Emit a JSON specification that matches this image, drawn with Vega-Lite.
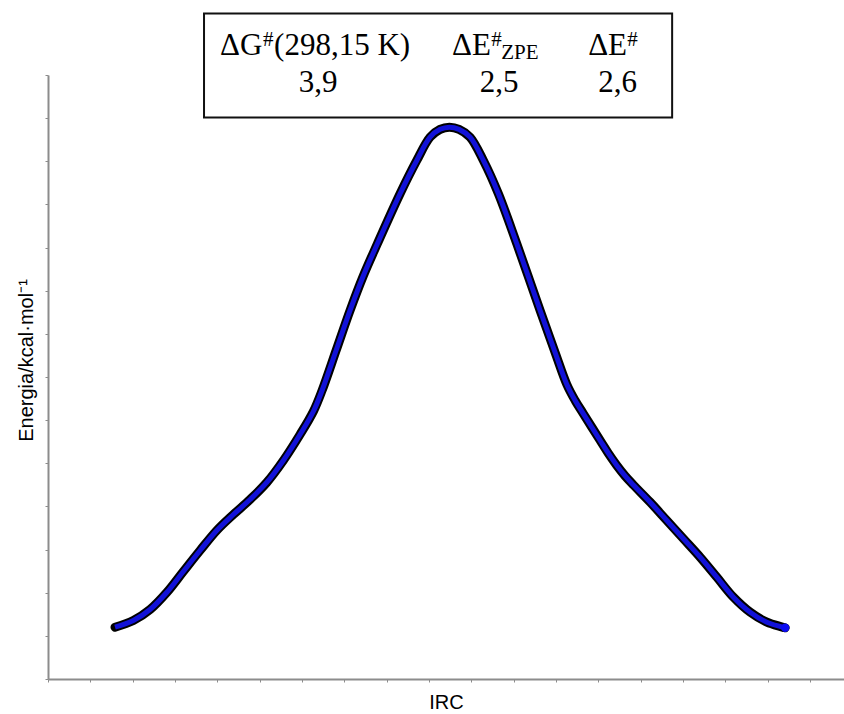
{
  "$schema": "https://vega.github.io/schema/vega-lite/v6.json",
  "width": 796,
  "height": 604,
  "autosize": {"type": "none"},
  "padding": {"left": 48, "top": 75, "right": 0, "bottom": 35},
  "background": "white",
  "config": {"view": {"stroke": null}},
  "datasets": {
    "curve": [
      {"irc": 1.583, "e": 1.201}, {"irc": 2.015, "e": 1.356}, {"irc": 2.41, "e": 1.611},
      {"irc": 2.804, "e": 2.005}, {"irc": 3.196, "e": 2.492}, {"irc": 3.591, "e": 2.978},
      {"irc": 3.985, "e": 3.442}, {"irc": 4.378, "e": 3.813}, {"irc": 4.772, "e": 4.161},
      {"irc": 5.167, "e": 4.555}, {"irc": 5.559, "e": 5.065}, {"irc": 5.953, "e": 5.667},
      {"irc": 6.267, "e": 6.2}, {"irc": 6.473, "e": 6.687}, {"irc": 6.804, "e": 7.614},
      {"irc": 7.134, "e": 8.542}, {"irc": 7.441, "e": 9.33}, {"irc": 7.779, "e": 10.088},
      {"irc": 8.315, "e": 11.247}, {"irc": 8.71, "e": 12.019}, {"irc": 9.024, "e": 12.559},
      {"irc": 9.26, "e": 12.74}, {"irc": 9.48, "e": 12.791}, {"irc": 9.709, "e": 12.74},
      {"irc": 9.969, "e": 12.559}, {"irc": 10.283, "e": 12.019}, {"irc": 10.638, "e": 11.247},
      {"irc": 11.072, "e": 10.088}, {"irc": 11.623, "e": 8.542}, {"irc": 11.977, "e": 7.568},
      {"irc": 12.254, "e": 6.827}, {"irc": 12.45, "e": 6.456}, {"irc": 12.646, "e": 6.147},
      {"irc": 13.041, "e": 5.529}, {"irc": 13.229, "e": 5.239}, {"irc": 13.435, "e": 4.949},
      {"irc": 13.631, "e": 4.706}, {"irc": 13.827, "e": 4.497}, {"irc": 14.222, "e": 4.098},
      {"irc": 14.616, "e": 3.674}, {"irc": 15.008, "e": 3.25}, {"irc": 15.403, "e": 2.823},
      {"irc": 15.797, "e": 2.36}, {"irc": 16.189, "e": 1.896}, {"irc": 16.584, "e": 1.548},
      {"irc": 16.979, "e": 1.317}, {"irc": 17.411, "e": 1.187}
    ],
    "box": [{"x1": 3.685, "x2": 14.741, "y1": 13.016, "y2": 15.426}],
    "labels": [
      {"t": "ΔG", "x": 4.064, "y": 14.453, "kind": "main"},
      {"t": "(298,15 K)", "x": 5.339, "y": 14.453, "kind": "main"},
      {"t": "ΔE", "x": 9.544, "y": 14.453, "kind": "main"},
      {"t": "ΔE", "x": 12.757, "y": 14.453, "kind": "main"},
      {"t": "#", "x": 5.079, "y": 14.662, "kind": "sup"},
      {"t": "#", "x": 10.466, "y": 14.662, "kind": "sup"},
      {"t": "#", "x": 13.678, "y": 14.662, "kind": "sup"},
      {"t": "ZPE", "x": 10.702, "y": 14.36, "kind": "sub"},
      {"t": "3,9", "x": 6.378, "y": 13.597, "kind": "val"},
      {"t": "2,5", "x": 10.654, "y": 13.597, "kind": "val"},
      {"t": "2,6", "x": 13.454, "y": 13.597, "kind": "val"}
    ]
  },
  "layer": [
    {
      "data": {"name": "box"},
      "mark": {"type": "rect", "fill": "white", "stroke": "#111111", "strokeWidth": 2},
      "encoding": {
        "x": {"field": "x1", "type": "quantitative", "scale": {"domain": [0, 18.8], "nice": false, "zero": false},
          "axis": {"values": [0,1,2,3,4,5,6,7,8,9,10,11,12,13,14,15,16,17,18], "labels": false, "grid": false,
            "domainColor": "#8c8c8c", "domainWidth": 2, "tickColor": "#8c8c8c", "tickSize": 3, "tickWidth": 1,
            "title": "IRC", "titleFont": "Liberation Sans", "titleFontSize": 20, "titleFontWeight": "normal",
            "titleColor": "#000000", "titleY": 29, "titleBaseline": "alphabetic"}},
        "x2": {"field": "x2"},
        "y": {"field": "y1", "type": "quantitative", "scale": {"domain": [0, 14], "nice": false, "zero": false},
          "axis": {"values": [0,1,2,3,4,5,6,7,8,9,10,11,12,13,14], "labels": false, "grid": false,
            "domainColor": "#8c8c8c", "domainWidth": 2, "tickColor": "#8c8c8c", "tickSize": 3, "tickWidth": 1,
            "title": "Energia/kcal·mol⁻¹", "titleFont": "Liberation Sans", "titleFontSize": 20, "titleFontWeight": "normal",
            "titleColor": "#000000", "titleX": -16, "titleY": 285, "titleAngle": -90, "titleAlign": "center", "titleBaseline": "alphabetic"}},
        "y2": {"field": "y2"}
      }
    },
    {
      "data": {"name": "labels"},
      "transform": [{"filter": "datum.kind === 'main'"}],
      "mark": {"type": "text", "font": "Liberation Serif", "fontSize": 31, "align": "left", "baseline": "alphabetic", "color": "#000000"},
      "encoding": {
        "x": {"field": "x", "type": "quantitative"},
        "y": {"field": "y", "type": "quantitative"},
        "text": {"field": "t"}
      }
    },
    {
      "data": {"name": "labels"},
      "transform": [{"filter": "datum.kind === 'sup'"}],
      "mark": {"type": "text", "font": "Liberation Serif", "fontSize": 21, "align": "left", "baseline": "alphabetic", "color": "#000000"},
      "encoding": {
        "x": {"field": "x", "type": "quantitative"},
        "y": {"field": "y", "type": "quantitative"},
        "text": {"field": "t"}
      }
    },
    {
      "data": {"name": "labels"},
      "transform": [{"filter": "datum.kind === 'sub'"}],
      "mark": {"type": "text", "font": "Liberation Serif", "fontSize": 21, "align": "left", "baseline": "alphabetic", "color": "#000000"},
      "encoding": {
        "x": {"field": "x", "type": "quantitative"},
        "y": {"field": "y", "type": "quantitative"},
        "text": {"field": "t"}
      }
    },
    {
      "data": {"name": "labels"},
      "transform": [{"filter": "datum.kind === 'val'"}],
      "mark": {"type": "text", "font": "Liberation Serif", "fontSize": 31, "align": "center", "baseline": "alphabetic", "color": "#000000"},
      "encoding": {
        "x": {"field": "x", "type": "quantitative"},
        "y": {"field": "y", "type": "quantitative"},
        "text": {"field": "t"}
      }
    },
    {
      "data": {"name": "curve"},
      "mark": {"type": "line", "color": "#000000", "strokeWidth": 9, "strokeCap": "round", "strokeJoin": "round", "interpolate": "catmull-rom"},
      "encoding": {
        "x": {"field": "irc", "type": "quantitative"},
        "y": {"field": "e", "type": "quantitative"}
      }
    },
    {
      "data": {"name": "curve"},
      "mark": {"type": "line", "color": "#1212d8", "strokeWidth": 5, "strokeCap": "butt", "strokeJoin": "round", "interpolate": "catmull-rom"},
      "encoding": {
        "x": {"field": "irc", "type": "quantitative"},
        "y": {"field": "e", "type": "quantitative"}
      }
    },
    {
      "data": {"name": "curve"},
      "transform": [{"filter": "datum.irc > 17.4"}],
      "mark": {"type": "point", "filled": true, "color": "#0b0bf2", "size": 70, "opacity": 1},
      "encoding": {
        "x": {"field": "irc", "type": "quantitative"},
        "y": {"field": "e", "type": "quantitative"}
      }
    }
  ]
}
